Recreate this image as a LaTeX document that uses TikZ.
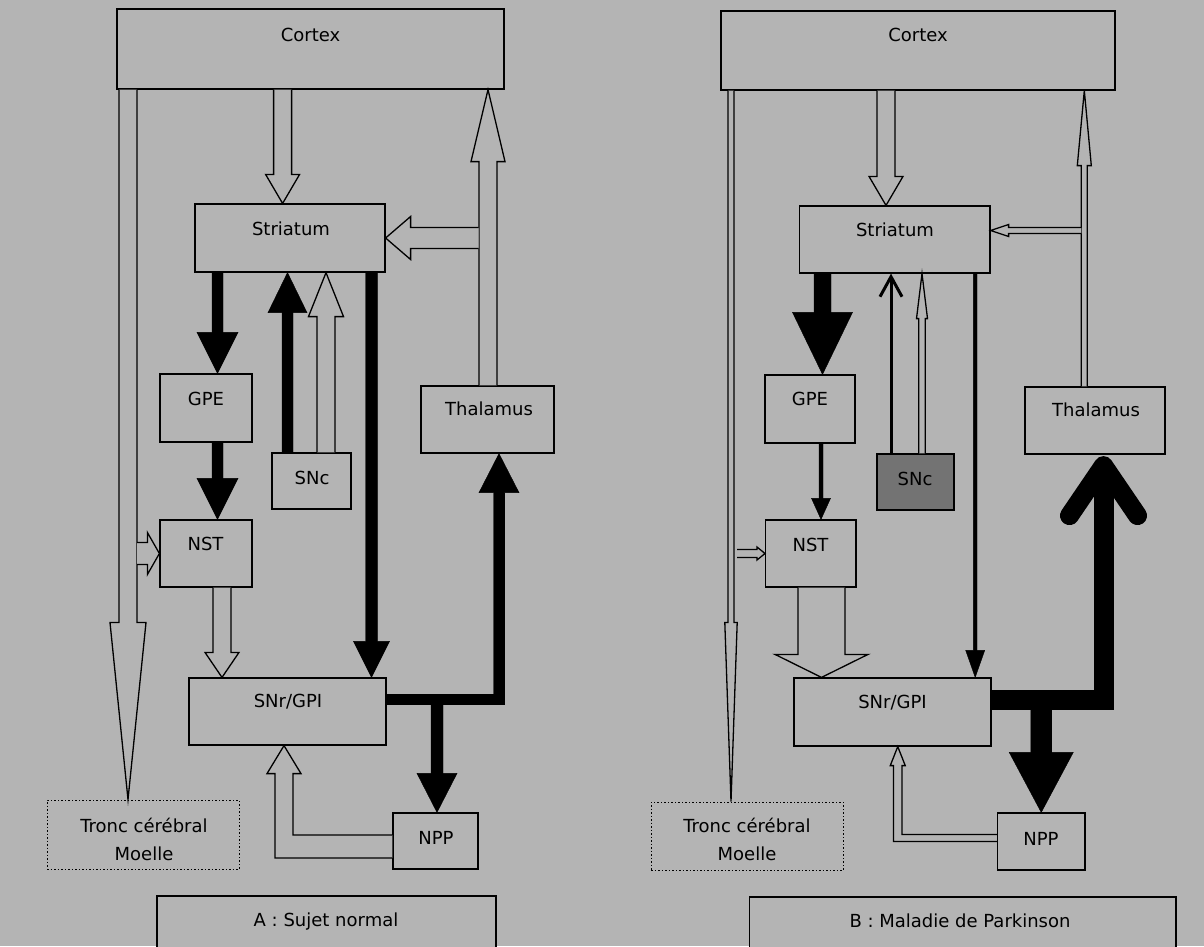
\documentclass[tikz,border=0pt]{standalone}
\usepackage{fontspec}
\setmainfont{DejaVu Sans}
\usetikzlibrary{calc,arrows.meta}
\definecolor{bg}{HTML}{B4B4B4}
\definecolor{sncdark}{HTML}{737373}
% vertical block arrow: [style]{start}{tip}{half shaft}{half head}{head length}{dir: 1 up, -1 down}
\newcommand\vblk[7][]{%
  \draw[#1] let \p1=#2, \p2=#3 in
   ({\x2-#4pt},\y1) -- ({\x2-#4pt},{\y2-(#7)*(#6pt)}) -- ({\x2-#5pt},{\y2-(#7)*(#6pt)}) -- (\x2,\y2)
   -- ({\x2+#5pt},{\y2-(#7)*(#6pt)}) -- ({\x2+#4pt},{\y2-(#7)*(#6pt)}) -- ({\x2+#4pt},\y1);}
% horizontal block arrow: dir 1 right, -1 left
\newcommand\hblk[7][]{%
  \draw[#1] let \p1=#2, \p2=#3 in
   (\x1,{\y2+#4pt}) -- ({\x2-(#7)*(#6pt)},{\y2+#4pt}) -- ({\x2-(#7)*(#6pt)},{\y2+#5pt}) -- (\x2,\y2)
   -- ({\x2-(#7)*(#6pt)},{\y2-#5pt}) -- ({\x2-(#7)*(#6pt)},{\y2-#4pt}) -- (\x1,{\y2-#4pt});}
\begin{document}
\begin{tikzpicture}[x=1pt,y=-1pt,font=\fontsize{18}{22}\selectfont,
  box/.style={draw=black, line width=1.2pt, fill=bg, inner sep=0pt},
  dotbox/.style={draw=black, line width=1pt, dash pattern=on 1.5pt off 2pt, fill=bg, inner sep=0pt},
  lbl/.style={inner sep=0pt, text height=13pt, text depth=0pt},
  hollow/.style={draw=black, line width=1.3pt, fill=bg, line join=miter},
  blkfill/.style={draw=black, fill=black, line width=0.4pt, line join=miter}]
\useasboundingbox (0,0) rectangle (1204,946);
\clip (0,0) rectangle (1204,946);
\fill[bg] (0,0) rectangle (1204,946);

% ---------------- Panel A ----------------
\node[box, minimum width=387pt, minimum height=80pt] (ctxA) at (310.5,49) {};
\node[box, minimum width=190pt, minimum height=68pt] (strA) at (290,238) {};
\node[box, minimum width=92pt, minimum height=68pt] (gpeA) at (206,408) {};
\node[box, minimum width=92pt, minimum height=67pt] (nstA) at (206,553.5) {};
\node[box, minimum width=79pt, minimum height=56pt] (sncA) at (311.5,481) {};
\node[box, minimum width=133pt, minimum height=67pt] (thaA) at (487.5,419.5) {};
\node[box, minimum width=197pt, minimum height=67pt] (snrA) at (287.5,711.5) {};
\node[box, minimum width=85pt, minimum height=56pt] (nppA) at (435.5,841) {};
\node[dotbox, minimum width=192pt, minimum height=69pt] (troA) at (143,834.5) {};
\node[box, minimum width=339pt, minimum height=79pt] (titA) at (326.5,935.5) {};

\node[lbl] (ctxAt) at (310.5,34.5) {Cortex};
\node[lbl] (strAt) at (291,229) {Striatum};
\node[lbl] (gpeAt) at (206,399) {GPE};
\node[lbl] (nstAt) at (205.5,544) {NST};
\node[lbl] (sncAt) at (312,478) {SNc};
\node[lbl] (thaAt) at (489,409) {Thalamus};
\node[lbl] (snrAt) at (288,700.5) {SNr/GPI};
\node[lbl] (nppAt) at (436,837.5) {NPP};
\node[inner sep=0pt, align=center, font=\fontsize{18}{28}\selectfont] (troAt) at (144,839) {Tronc cérébral\\Moelle};
\node[lbl] (titAt) at (326,920) {A : Sujet normal};

% hollow arrows A
\vblk[hollow]{(ctxA.south)}{([xshift=-15pt]troA.north)}{9}{18}{177}{-1}
\vblk[hollow]{(ctxA.south)}{([xshift=-7.4pt]strA.north)}{9}{17}{29}{-1}
\vblk[hollow]{(thaA.north)}{([xshift=177.5pt]ctxA.south)}{9}{17}{72}{1}
\hblk[hollow]{([xshift=-9pt]thaA.north)}{(strA.east)}{10.5}{21.5}{25}{-1}
\vblk[hollow]{(sncA.north)}{([xshift=36pt]strA.south)}{9}{17.5}{44}{1}
\vblk[hollow]{(nstA.south)}{([xshift=-65.5pt]snrA.north)}{9}{17}{25}{-1}
\hblk[hollow]{([xshift=-6pt]troA.north)}{(nstA.west)}{11}{21}{12}{1}
\draw[hollow] let \p1=(nppA.west), \p2=([xshift=-3.5pt]snrA.south) in
  (\x1,{\y1-17pt}) -- ({\x2-9pt},{\y1-17pt}) -- ({\x2-9pt},{\y2-28pt}) -- ({\x2-17pt},{\y2-28pt})
  -- (\x2,\y2) -- ({\x2+17pt},{\y2-28pt}) -- ({\x2+9pt},{\y2-28pt}) -- ({\x2+9pt},{\y1+6pt}) -- (\x1,{\y1+6pt});

% black arrows A
\vblk[blkfill]{(strA.south)}{([xshift=11.5pt]gpeA.north)}{5.5}{20.5}{41}{-1}
\vblk[blkfill]{(gpeA.south)}{([xshift=11.5pt]nstA.north)}{5.5}{20.5}{41}{-1}
\vblk[blkfill]{(sncA.north)}{([xshift=-2.5pt]strA.south)}{5.5}{19.5}{40}{1}
\vblk[blkfill]{(strA.south)}{([xshift=84pt]snrA.north)}{6}{18}{36}{-1}
\coordinate (jA) at ([yshift=12pt]snrA.east);
\draw[line width=11pt, line join=miter, shorten >=39pt] (jA) -| ([xshift=11.5pt]thaA.south);
\vblk[blkfill]{(jA)}{([xshift=11.5pt]thaA.south)}{5.5}{20}{39}{1}
\vblk[blkfill]{(jA)}{([xshift=1.5pt]nppA.north)}{6}{20}{39}{-1}

% ---------------- Panel B ----------------
\node[box, minimum width=394pt, minimum height=79pt] (ctxB) at (918,50.5) {};
\node[box, minimum width=190.5pt, minimum height=67pt] (strB) at (894.75,239.5) {};
\node[box, minimum width=90pt, minimum height=68pt] (gpeB) at (810,409) {};
\node[box, minimum width=90.4pt, minimum height=67pt] (nstB) at (810.8,553.5) {};
\node[box, fill=sncdark, minimum width=77pt, minimum height=56pt] (sncB) at (915.5,482) {};
\node[box, minimum width=140pt, minimum height=67pt] (thaB) at (1095,420.5) {};
\node[box, minimum width=197pt, minimum height=68pt] (snrB) at (892.5,712) {};
\node[box, minimum width=87.5pt, minimum height=57pt] (nppB) at (1041.25,841.5) {};
\node[dotbox, minimum width=192pt, minimum height=68pt] (troB) at (747,836) {};
\node[box, minimum width=426.5pt, minimum height=78pt] (titB) at (962.75,936) {};

\node[lbl] (ctxBt) at (918,35) {Cortex};
\node[lbl] (strBt) at (895,229.5) {Striatum};
\node[lbl] (gpeBt) at (810,399) {GPE};
\node[lbl] (nstBt) at (810.5,544.5) {NST};
\node[lbl] (sncBt) at (915,478.5) {SNc};
\node[lbl] (thaBt) at (1096,410) {Thalamus};
\node[lbl] (snrBt) at (892.5,702) {SNr/GPI};
\node[lbl] (nppBt) at (1041,838.5) {NPP};
\node[inner sep=0pt, align=center, font=\fontsize{18}{28}\selectfont] (troBt) at (747,839) {Tronc cérébral\\Moelle};
\node[lbl] (titBt) at (960,920.5) {B : Maladie de Parkinson};

% hollow arrows B
\vblk[hollow]{(ctxB.south)}{([xshift=-16pt]troB.north)}{3}{6.2}{179}{-1}
\vblk[hollow]{(ctxB.south)}{([xshift=-8.75pt]strB.north)}{9}{17}{29}{-1}
\vblk[hollow]{(thaB.north)}{([xshift=166.3pt]ctxB.south)}{3}{7}{75}{1}
\hblk[hollow]{([xshift=-13.7pt]thaB.north)}{([yshift=9pt]strB.east)}{3}{6}{18}{-1}
\vblk[hollow]{(sncB.north)}{([xshift=27.25pt]strB.south)}{3.2}{5.5}{45}{1}
\vblk[hollow]{(nstB.south)}{([xshift=-71pt]snrB.north)}{23.5}{46.5}{23}{-1}
\hblk[hollow]{([xshift=-10pt]troB.north)}{(nstB.west)}{4}{6.5}{8}{1}
\draw[hollow] let \p1=(nppB.west), \p2=([xshift=5.25pt]snrB.south) in
  (\x1,\y1) -- ({\x2-4.2pt},\y1) -- ({\x2-4.2pt},{\y2-19pt}) -- ({\x2-7.5pt},{\y2-19pt})
  -- (\x2,\y2) -- ({\x2+7.5pt},{\y2-19pt}) -- ({\x2+4.2pt},{\y2-19pt}) -- ({\x2+4.2pt},{\y1+7pt}) -- (\x1,{\y1+7pt});

% black arrows B
\vblk[blkfill]{(strB.south)}{([xshift=12.5pt]gpeB.north)}{8.5}{30}{62}{-1}
\vblk[blkfill]{(gpeB.south)}{([xshift=10.2pt]nstB.north)}{2}{9.5}{21}{-1}
\draw[line width=3pt, -{Straight Barb[length=20pt,width=22pt]}] ([xshift=-24.5pt]sncB.north) -- ([xshift=-3.75pt]strB.south);
\vblk[blkfill]{(strB.south)}{([xshift=82.7pt]snrB.north)}{1.8}{9.5}{27}{-1}
\coordinate (jB) at ([yshift=12pt]snrB.east);
\coordinate (tB) at ([xshift=8.5pt,yshift=-11pt]thaB.south);
\draw[line width=20pt, line join=miter] (jB) -| (tB);
\draw[line width=19pt, line cap=round, line join=round] ($(tB)+(-34,50)$) -- (tB) -- ($(tB)+(34,50)$);
\vblk[blkfill]{(jB)}{(nppB.north)}{10.5}{32}{60}{-1}
\end{tikzpicture}
\end{document}
